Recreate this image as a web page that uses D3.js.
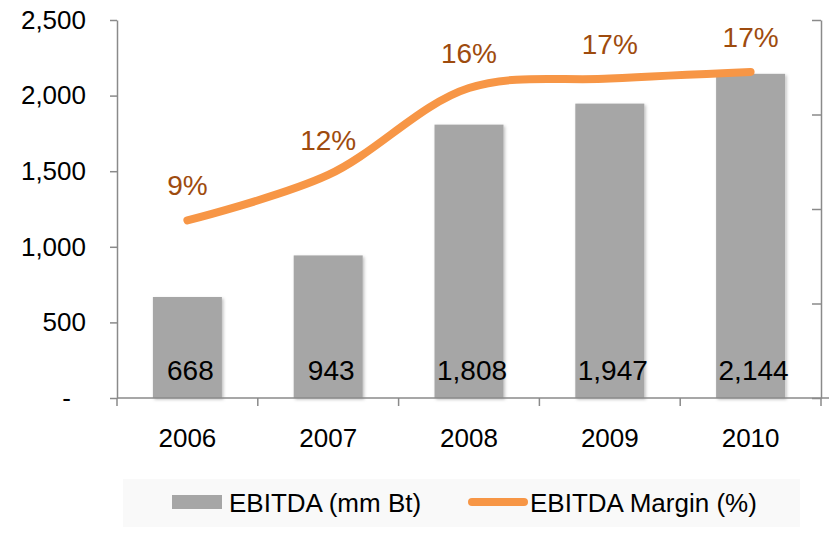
<!DOCTYPE html>
<html>
<head>
  <script src="https://d3js.org/d3.v7.min.js"></script>
  <style>
    body { margin: 0; background: #fff; }
    text { font-family: "Liberation Sans", Arial, sans-serif; }
  </style>
</head>
<body>
  <div id="chart"></div>
  <script>
    // chart data
    const years = ["2006", "2007", "2008", "2009", "2010"];
    const ebitda = [668, 943, 1808, 1947, 2144];
    const margin = [0.094, 0.118, 0.164, 0.169, 0.1725];
    const marginLabels = ["9%", "12%", "16%", "17%", "17%"];
    const leftTicks = [0, 500, 1000, 1500, 2000, 2500];
    const rightTicks = [0, 0.05, 0.1, 0.15, 0.2];

    const W = 836, H = 533;
    const plotLeft = 117, plotRight = 821, plotTop = 20, plotBottom = 398;

    const svg = d3.select("#chart").append("svg")
      .attr("width", W).attr("height", H);

    const defs = svg.append("defs");
    const shadow = defs.append("filter").attr("id", "shadow")
      .attr("x", "-20%").attr("y", "-5%").attr("width", "140%").attr("height", "110%");
    shadow.append("feDropShadow")
      .attr("dx", 1.5).attr("dy", 1.5).attr("stdDeviation", 1.5)
      .attr("flood-color", "#000").attr("flood-opacity", 0.25);

    const x = d3.scaleBand().domain(years).range([plotLeft, plotRight]).padding(0);
    const y = d3.scaleLinear().domain([0, 2500]).range([plotBottom, plotTop]);
    const y2 = d3.scaleLinear().domain([0, 0.2]).range([plotBottom, plotTop]);
    const cx = d => x(d) + x.bandwidth() / 2;
    const barW = x.bandwidth() * 0.49;

    const axisColor = "#8a8a8a";

    // bars
    svg.append("g").selectAll("rect")
      .data(years)
      .join("rect")
        .attr("x", d => cx(d) - barW / 2)
        .attr("y", (d, i) => y(ebitda[i]))
        .attr("width", barW)
        .attr("height", (d, i) => plotBottom - y(ebitda[i]))
        .attr("fill", "#a6a6a6")
        .attr("filter", "url(#shadow)");

    // left axis
    const gl = svg.append("g")
      .attr("transform", `translate(${plotLeft},0)`)
      .call(d3.axisLeft(y).tickValues(leftTicks).tickSize(7).tickSizeOuter(0).tickPadding(24)
        .tickFormat(d => d === 0 ? "-" : d3.format(",")(d)));
    gl.selectAll("path, line").attr("stroke", axisColor).attr("stroke-width", 1.5);
    gl.selectAll("text").attr("font-size", 26).attr("fill", "#000")
      .attr("font-family", "Liberation Sans, Arial, sans-serif")
      .attr("dx", d => d === 0 ? -15 : 0);

    // right axis (no labels, inward ticks)
    const gr = svg.append("g")
      .attr("transform", `translate(${plotRight},0)`)
      .call(d3.axisRight(y2).tickValues(rightTicks).tickSize(-9).tickSizeOuter(0).tickFormat(""));
    gr.selectAll("path, line").attr("stroke", axisColor).attr("stroke-width", 1.5);

    // bottom axis: line, boundary ticks, labels
    const gb = svg.append("g")
      .attr("transform", `translate(0,${plotBottom})`);
    gb.append("line")
      .attr("x1", plotLeft).attr("x2", plotRight + 8)
      .attr("stroke", axisColor).attr("stroke-width", 1.5);
    const bounds = years.map(d => x(d)).concat([x.range()[1]]);
    gb.selectAll("line.tick")
      .data(bounds)
      .join("line")
        .attr("class", "tick")
        .attr("x1", d => d).attr("x2", d => d)
        .attr("y1", 0).attr("y2", 8)
        .attr("stroke", axisColor).attr("stroke-width", 1.5);
    gb.selectAll("text")
      .data(years)
      .join("text")
        .attr("x", d => cx(d))
        .attr("y", 49)
        .attr("text-anchor", "middle")
        .attr("font-size", 26)
        .text(d => d);

    // bar value labels
    svg.append("g").selectAll("text")
      .data(years)
      .join("text")
        .attr("x", d => cx(d) + 3)
        .attr("y", 380)
        .attr("text-anchor", "middle")
        .attr("font-size", 28)
        .attr("fill", "#000")
        .text((d, i) => d3.format(",")(ebitda[i]));

    // margin line
    const line = d3.line()
      .x(d => cx(d))
      .y((d, i) => y2(margin[i]))
      .curve(d3.curveCatmullRom.alpha(0.5));
    svg.append("path")
      .datum(years)
      .attr("d", line)
      .attr("fill", "none")
      .attr("stroke", "#f79646")
      .attr("stroke-width", 8)
      .attr("stroke-linecap", "round")
      .attr("stroke-linejoin", "round");

    // margin labels
    svg.append("g").selectAll("text")
      .data(years)
      .join("text")
        .attr("x", d => cx(d))
        .attr("y", (d, i) => y2(margin[i]) - 25)
        .attr("text-anchor", "middle")
        .attr("font-size", 28)
        .attr("fill", "#9e4b0e")
        .text((d, i) => marginLabels[i]);

    // legend
    const lg = svg.append("g");
    lg.append("rect")
      .attr("x", 123).attr("y", 479).attr("width", 677).attr("height", 48)
      .attr("fill", "#f9f9f9");
    lg.append("rect")
      .attr("x", 172).attr("y", 495).attr("width", 50).attr("height", 14)
      .attr("fill", "#a6a6a6");
    lg.append("text")
      .attr("x", 229).attr("y", 512)
      .attr("font-size", 26)
      .text("EBITDA (mm Bt)");
    lg.append("line")
      .attr("x1", 472).attr("x2", 524).attr("y1", 502).attr("y2", 502)
      .attr("stroke", "#f79646").attr("stroke-width", 8).attr("stroke-linecap", "round");
    lg.append("text")
      .attr("x", 530).attr("y", 512)
      .attr("font-size", 26)
      .text("EBITDA Margin (%)");
  </script>
</body>
</html>
